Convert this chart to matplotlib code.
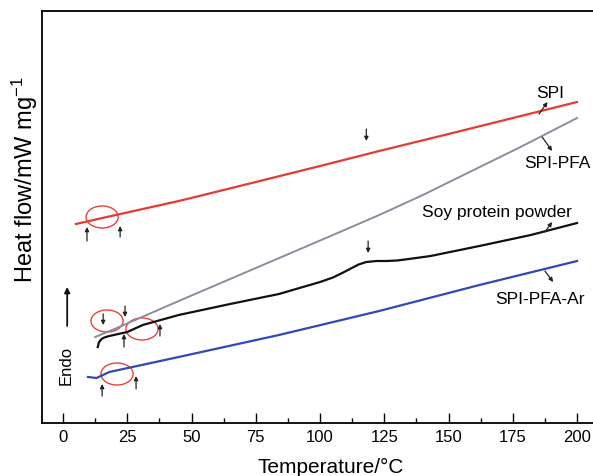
# DSC curves of soy protein samples, redrawn with matplotlib.

import matplotlib
matplotlib.use("Agg")
import matplotlib.pyplot as plt
from matplotlib.patches import Ellipse
from matplotlib.ticker import MultipleLocator

plt.rcParams['font.family'] = ['Liberation Sans', 'DejaVu Sans']
plt.rcParams['mathtext.fontset'] = 'custom'
plt.rcParams['mathtext.rm'] = 'Liberation Sans'
plt.rcParams['mathtext.it'] = 'Liberation Sans:italic'

# curve data (temperature in C, heat flow in arbitrary units)
spi_T = [5, 17, 45, 53, 75, 100, 123, 150, 175, 200]
spi_hf = [199, 206, 222, 227, 241, 257, 272, 289, 305, 321]

pfa_T = [12.5, 20, 45, 65, 85, 105, 123, 140, 155, 178, 200]
pfa_hf = [86, 94, 122, 144, 166, 188, 208, 228, 247, 276, 305]

soy_T = [13.5, 14, 15, 16, 18, 25, 31, 38, 45, 65, 84, 92, 100, 105, 109, 112, 115,
         118, 122, 126, 130, 136, 143, 162, 182, 200]
soy_hf = [76, 81, 84, 85.5, 87, 91, 98, 103, 108, 119, 129, 135, 141, 145.5, 150.5, 154.5, 158.5,
          161, 162, 162, 162.5, 164.5, 167, 177, 188, 200]

ar_T = [9.7, 13, 18, 27, 45, 84, 123, 162, 200]
ar_hf = [46, 45, 51, 56, 66, 88, 112, 138, 162]

x_ticks = [0, 25, 50, 75, 100, 125, 150, 175, 200]

# labels: (text, x, y) and pointer (x0, y0, x1, y1)
labels = [
    ("SPI", 189.5, 331, (185.2, 309, 188.5, 321)),
    ("SPI-PFA", 192.2, 261, (186.4, 286, 190.3, 272)),
    ("Soy protein powder", 168.9, 211, (187.5, 191, 190.3, 201)),
    ("SPI-PFA-Ar", 185.6, 124, (187.5, 152, 190.7, 141)),
]

# small marker arrows (x, y_from, y_to)
marks = [
    (9.3, 182, 196), (22.2, 186, 197), (118, 294, 282),
    (15.6, 109, 98), (24.1, 117, 106), (23.7, 76, 89), (37.7, 87, 99),
    (118.7, 182, 170),
    (15.2, 27, 39), (28.4, 34, 47),
]

# circled regions (x, y)
circles = [(15.2, 206), (17.1, 102), (30.7, 94), (21.0, 49)]

fig = plt.figure(figsize=(5.93, 4.77), dpi=100)
ax = fig.add_axes([42 / 593, 53 / 477, 551 / 593, 412 / 477])

ax.plot(spi_T, spi_hf, color='#e83a32', lw=1.6)
ax.plot(pfa_T, pfa_hf, color='#8c8c9c', lw=1.4)
ax.plot(soy_T, soy_hf, color='#111111', lw=1.6)
ax.plot(ar_T, ar_hf, color='#3248b4', lw=1.6)

for c in circles:
    ax.add_patch(Ellipse(c, 12.5, 22, fill=False, edgecolor='#e8413a', lw=1.0))

for x, y0, y1 in marks:
    ax.annotate('', xy=(x, y1), xytext=(x, y0),
                arrowprops=dict(arrowstyle='-|>', color='#222222', lw=0.9,
                                mutation_scale=6, shrinkA=0, shrinkB=0))

for text, tx, ty, (x0, y0, x1, y1) in labels:
    ax.text(tx, ty, text, ha='center', va='center', fontsize=12.5)
    ax.annotate('', xy=(x1, y1), xytext=(x0, y0),
                arrowprops=dict(arrowstyle='-|>', color='#222222', lw=0.9,
                                mutation_scale=6, shrinkA=0, shrinkB=0))

# endo direction arrow
ax.annotate('', xy=(1.6, 136), xytext=(1.6, 97),
            arrowprops=dict(arrowstyle='-|>', color='#111111', lw=1.3,
                            mutation_scale=8, shrinkA=0, shrinkB=0))
ax.text(1.2, 59, "Endo", rotation=90, ha='center', va='center', fontsize=12)

ax.set_xlim(-8.2, 206.2)
ax.set_ylim(0, 412)
ax.set_xticks(x_ticks)
ax.xaxis.set_minor_locator(MultipleLocator(12.5))
ax.tick_params(axis='x', which='major', direction='in', length=7, width=1, labelsize=12, pad=4)
ax.tick_params(axis='x', which='minor', direction='in', length=3.5, width=1)
ax.set_yticks([])
ax.spines['right'].set_visible(False)
for s in ['left', 'bottom', 'top']:
    ax.spines[s].set_linewidth(1.3)

fig.text(331 / 593, 1 - 467 / 477, "Temperature/°C", ha='center', va='center', fontsize=15)
fig.text(25 / 593, 1 - 180 / 477, "Heat flow/mW mg$^{-1}$", rotation=90,
         ha='center', va='center', fontsize=17)

fig.savefig("out.png", dpi=100)
plt.close(fig)
